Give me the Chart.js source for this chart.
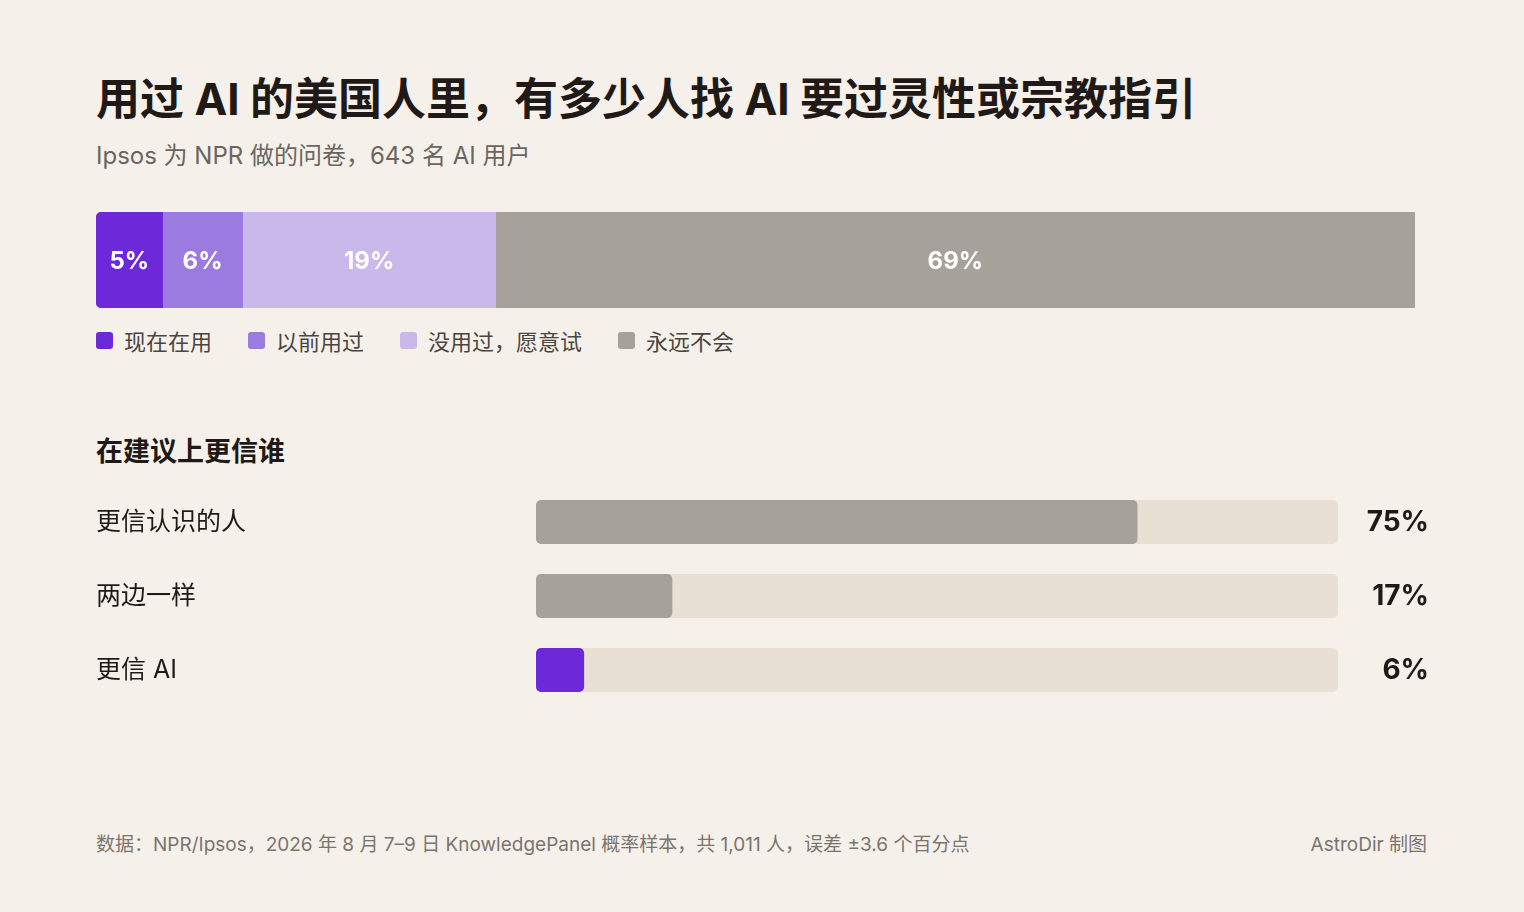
<!DOCTYPE html>
<html lang="zh-CN">
<head>
<meta charset="utf-8">
<title>用过 AI 的美国人里，有多少人找 AI 要过灵性或宗教指引</title>
<script src="https://cdn.jsdelivr.net/npm/chart.js@4/dist/chart.umd.min.js"></script>
<style>
  html, body { margin: 0; padding: 0; }
  body {
    width: 1524px; height: 912px; position: relative; overflow: hidden;
    background: #f5f1ea;
    font-family: "Inter", "Noto Sans CJK SC", sans-serif;
    color: #1f1a17;
  }
  .abs { position: absolute; }
  #title { left: 96px; top: 64px; font-size: 44px; font-weight: 700; white-space: nowrap; }
  #subtitle { left: 96px; top: 136px; font-size: 24px; color: #6b655f; white-space: nowrap; }
  #stackWrap { left: 96px; top: 212px; width: 1319px; height: 96px; }
  #legend { left: 96px; top: 324px; display: flex; font-size: 22px; color: #4a4541; white-space: nowrap; }
  #legend .item { display: flex; align-items: center; margin-right: 36px; }
  #legend .sw { width: 17px; height: 17px; border-radius: 3px; margin-right: 11px; }
  #section { left: 96px; top: 430px; font-size: 27px; font-weight: 700; white-space: nowrap; }
  #trustWrap { left: 96px; top: 485px; width: 1334px; height: 222px; }
  #source { left: 96px; top: 829px; font-size: 19px; color: #7a746e; white-space: nowrap; }
  #credit { right: 97px; top: 829px; font-size: 19px; color: #7a746e; white-space: nowrap; }
</style>
</head>
<body>
<div id="title" class="abs">用过 AI 的美国人里，有多少人找 AI 要过灵性或宗教指引</div>
<div id="subtitle" class="abs">Ipsos 为 NPR 做的问卷，643 名 AI 用户</div>
<div id="stackWrap" class="abs"><canvas id="stackChart"></canvas></div>
<div id="legend" class="abs"></div>
<div id="section" class="abs">在建议上更信谁</div>
<div id="trustWrap" class="abs"><canvas id="trustChart"></canvas></div>
<div id="source" class="abs">数据：NPR/Ipsos，2026 年 8 月 7–9 日 KnowledgePanel 概率样本，共 1,011 人，误差 ±3.6 个百分点</div>
<div id="credit" class="abs">AstroDir 制图</div>

<script>
// data
const usageLabels = ["现在在用", "以前用过", "没用过，愿意试", "永远不会"];
const usageValues = [5, 6, 19, 69];

const trustLabels = ["更信认识的人", "两边一样", "更信 AI"];
const trustValues = [75, 17, 6];
const trustMax = 100;

// colours
const usageColors = ["#6d28d9", "#9b7be0", "#c9b8ea", "#a6a19b"];
const trustColors = ["#a6a19b", "#a6a19b", "#6d28d9"];
const trackColor = "#e8e0d4";
const fontFamily = '"Inter", "Noto Sans CJK SC", sans-serif';

// legend
const legendEl = document.getElementById("legend");
usageLabels.forEach((label, i) => {
  const item = document.createElement("div");
  item.className = "item";
  item.innerHTML = '<span class="sw" style="background:' + usageColors[i] + '"></span><span>' + label + "</span>";
  legendEl.appendChild(item);
});

// labels inside stacked segments
const segmentLabels = {
  id: "segmentLabels",
  afterDatasetsDraw(chart) {
    const ctx = chart.ctx;
    ctx.save();
    ctx.font = "700 24px " + fontFamily;
    ctx.fillStyle = "#ffffff";
    ctx.textAlign = "center";
    ctx.textBaseline = "middle";
    chart.data.datasets.forEach((ds, i) => {
      const bar = chart.getDatasetMeta(i).data[0];
      if (!bar) return;
      ctx.fillText(ds.data[0] + "%", (bar.x + bar.base) / 2, bar.y + 2);
    });
    ctx.restore();
  }
};

const usageTotal = usageValues.reduce((a, b) => a + b, 0);

new Chart(document.getElementById("stackChart"), {
  type: "bar",
  data: {
    labels: [""],
    datasets: usageLabels.map((label, i) => ({
      label: label,
      data: [usageValues[i]],
      backgroundColor: usageColors[i],
      borderWidth: 0,
      borderSkipped: false,
      borderRadius: i === 0 ? { topLeft: 6, bottomLeft: 6, topRight: 0, bottomRight: 0 } : 0,
      barPercentage: 1,
      categoryPercentage: 1,
    })),
  },
  options: {
    indexAxis: "y",
    responsive: true,
    maintainAspectRatio: false,
    animation: false,
    layout: { padding: 0 },
    plugins: { legend: { display: false }, tooltip: { enabled: false } },
    scales: {
      x: { stacked: true, display: false, min: 0, max: usageTotal },
      y: { stacked: true, display: false },
    },
  },
  plugins: [segmentLabels],
});

// value labels on the right of the trust bars
const valueLabels = {
  id: "valueLabels",
  afterDatasetsDraw(chart) {
    const ctx = chart.ctx;
    const meta = chart.getDatasetMeta(0);
    ctx.save();
    ctx.font = "700 28px " + fontFamily;
    ctx.fillStyle = "#1f1a17";
    ctx.textAlign = "right";
    ctx.textBaseline = "middle";
    meta.data.forEach((bar, i) => {
      ctx.fillText(trustValues[i] + "%", chart.width - 1, bar.y + 1);
    });
    ctx.restore();
  }
};

new Chart(document.getElementById("trustChart"), {
  type: "bar",
  data: {
    labels: trustLabels,
    datasets: [
      {
        data: trustValues,
        backgroundColor: trustColors,
        borderRadius: 5,
        borderSkipped: false,
        grouped: false,
        barPercentage: 44 / 74,
        categoryPercentage: 1,
      },
      {
        data: trustLabels.map(() => trustMax),
        backgroundColor: trackColor,
        borderRadius: 5,
        borderSkipped: false,
        grouped: false,
        barPercentage: 44 / 74,
        categoryPercentage: 1,
      },
    ],
  },
  options: {
    indexAxis: "y",
    responsive: true,
    maintainAspectRatio: false,
    animation: false,
    layout: { padding: { left: 0, right: 92, top: 0, bottom: 0 } },
    plugins: { legend: { display: false }, tooltip: { enabled: false } },
    scales: {
      x: { display: false, min: 0, max: trustMax },
      y: {
        grid: { display: false },
        border: { display: false },
        afterFit(scale) {
          scale.width = 440;
          scale.paddingTop = 0;
          scale.paddingBottom = 0;
        },
        ticks: {
          crossAlign: "far",
          padding: 0,
          color: "#1f1a17",
          font: { family: fontFamily, size: 25 },
        },
      },
    },
  },
  plugins: [valueLabels],
});
</script>
</body>
</html>
